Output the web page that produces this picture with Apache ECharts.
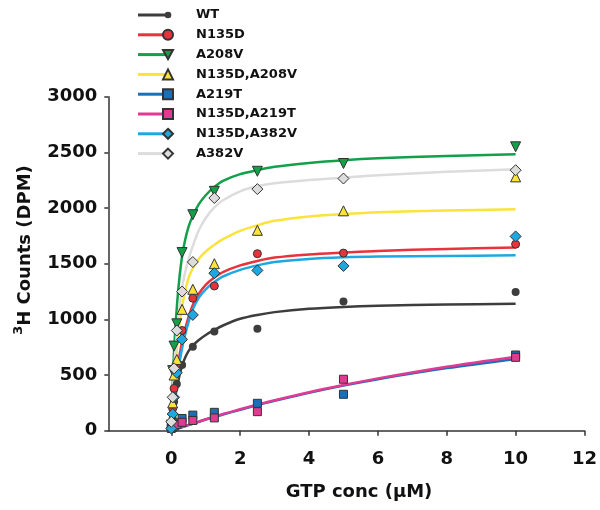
<!DOCTYPE html>
<html>
<head>
<meta charset="utf-8">
<script src="https://cdn.jsdelivr.net/npm/echarts@6/dist/echarts.min.js"></script>
<style>html,body{margin:0;padding:0;background:#fff}#c{width:600px;height:510px}</style>
</head>
<body>
<div id="c"></div>
<script>
// ---- data ----
const seriesNames = ['WT', 'N135D', 'A208V', 'N135D,A208V', 'A219T', 'N135D,A219T', 'N135D,A382V', 'A382V'];
const xTickLabels = [0, 2, 4, 6, 8, 10, 12];

// measured points (GTP conc, DPM)
const pointX = [0, 0.04, 0.08, 0.16, 0.3125, 0.625, 1.25, 2.5, 5, 10];
const wtPts          = [20, 110, 260, 420, 590, 755, 890, 915, 1160, 1245];
const n135dPts       = [30, 200, 380, 600, 900, 1190, 1300, 1590, 1595, 1675];
const a208vPts       = [50, 540, 760, 960, 1600, 1940, 2150, 2330, 2400, 2550];
const n135dA208vPts  = [60, 250, 500, 640, 1090, 1270, 1500, 1800, 1975, 2280];
const a219tPts       = [40, 55, 60, 70, 110, 140, 165, 246, 327, 680];
const n135dA219tPts  = [20, 30, 40, 55, 75, 92, 115, 171, 462, 659];
const n135dA382vPts  = [20, 150, 300, 520, 820, 1040, 1415, 1440, 1480, 1745];
const a382vPts       = [80, 300, 560, 900, 1250, 1515, 2090, 2170, 2265, 2340];

// fitted curves
const curveX = [0, 0.05, 0.1, 0.2, 0.3, 0.4, 0.5, 0.625, 0.8, 1, 1.25, 1.5, 2, 2.5, 3, 4, 5, 6, 8, 10];
const wtCurve         = [0, 150, 275, 445, 570, 655, 715, 765, 815, 860, 905, 945, 1005, 1040, 1065, 1095, 1112, 1122, 1133, 1141];
const n135dCurve      = [0, 200, 370, 600, 780, 910, 1020, 1130, 1230, 1310, 1375, 1425, 1485, 1525, 1555, 1583, 1600, 1615, 1632, 1645];
const a208vCurve      = [0, 500, 830, 1260, 1540, 1710, 1830, 1930, 2035, 2115, 2190, 2245, 2305, 2340, 2370, 2405, 2430, 2447, 2467, 2483];
const n135dA208vCurve = [0, 280, 500, 860, 1090, 1250, 1370, 1460, 1545, 1610, 1670, 1720, 1795, 1845, 1885, 1925, 1946, 1962, 1978, 1988];
const a219tCurve      = [0, 5, 10, 20, 30, 40, 50, 62, 80, 100, 123, 146, 188, 230, 268, 340, 405, 462, 562, 645];
const n135dA219tCurve = [0, 5, 11, 21, 31, 42, 52, 65, 82, 103, 126, 150, 192, 235, 273, 345, 410, 470, 575, 665];
const n135dA382vCurve = [0, 170, 320, 540, 720, 860, 975, 1090, 1195, 1270, 1335, 1385, 1445, 1485, 1515, 1543, 1557, 1564, 1570, 1575];
const a382vCurve      = [0, 370, 640, 1000, 1260, 1420, 1540, 1660, 1800, 1910, 2005, 2070, 2150, 2195, 2222, 2252, 2273, 2295, 2325, 2348];

const allPts = [wtPts, n135dPts, a208vPts, n135dA208vPts, a219tPts, n135dA219tPts, n135dA382vPts, a382vPts];
const allCurves = [wtCurve, n135dCurve, a208vCurve, n135dA208vCurve, a219tCurve, n135dA219tCurve, n135dA382vCurve, a382vCurve];

// ---- styles ----
const colors = ['#3d3d3d', '#e8333c', '#12a04b', '#fbe33a', '#1a70b8', '#e03a92', '#1ea8e2', '#dcdcdc'];
const symbols = ['circle', 'circle', 'triangle', 'triangle', 'rect', 'rect', 'diamond', 'diamond'];
const symbolRot = [0, 0, 180, 0, 0, 0, 0, 0];
const symbolSizes = [8, 8, 10, 10, 8, 8, 11, 11];
const borderW = [0, 1, 1, 1, 1, 1, 1, 1];
const legendIcons = [
  'path://M0,0M12,12M2,6A4,4,0,1,1,10,6A4,4,0,1,1,2,6Z',
  'circle',
  'path://M0,1L12,1L6,12Z',
  'triangle',
  'rect',
  'rect',
  'diamond',
  'diamond'
];

const FONT = 'DejaVu Sans';
const series = [];
seriesNames.forEach((name, i) => {
  series.push({
    name, type: 'scatter', z: 4,
    symbol: symbols[i], symbolRotate: symbolRot[i], symbolSize: symbolSizes[i],
    itemStyle: { color: colors[i], borderColor: '#333', borderWidth: borderW[i], opacity: 1 },
    data: pointX.map((x, k) => [x, allPts[i][k]])
  });
});
seriesNames.forEach((name, i) => {
  series.push({
    name, type: 'line', z: 3, showSymbol: false, symbol: 'none',
    smooth: 0.3,
    lineStyle: { color: colors[i], width: 2.5 },
    itemStyle: { color: colors[i] },
    data: curveX.map((x, k) => [x, allCurves[i][k]])
  });
});

const chart = echarts.init(document.getElementById('c'), null, { renderer: 'canvas' });
chart.setOption({
  animation: false,
  backgroundColor: '#fff',
  grid: { left: 108.3, right: 11.7, top: 96.7, bottom: 79.3, containLabel: false },
  xAxis: {
    type: 'value', min: -1.83, max: 12,
    axisLine: { show: true, onZero: false, lineStyle: { color: '#333', width: 1.5 } },
    axisTick: { show: true, inside: false, length: 5, customValues: xTickLabels, lineStyle: { color: '#333', width: 1.5 } },
    axisLabel: { customValues: xTickLabels, fontFamily: FONT, fontWeight: 'bold', fontSize: 18, color: '#111', margin: 20 },
    splitLine: { show: false }
  },
  yAxis: {
    type: 'value', min: 0, max: 3000, interval: 500,
    axisLine: { show: true, onZero: false, lineStyle: { color: '#333', width: 1.5 } },
    axisTick: { show: true, inside: false, length: 4, lineStyle: { color: '#333', width: 1.5 } },
    axisLabel: { fontFamily: FONT, fontWeight: 'bold', fontSize: 18, color: '#111', margin: 11, formatter: function (v) { return String(v); } },
    splitLine: { show: false }
  },
  legend: [
    {
      orient: 'vertical', left: 138, top: 13.5, padding: 0,
      itemWidth: 28, itemHeight: 3, itemGap: 16.8, icon: 'rect',
      formatter: function () { return ''; },
      itemStyle: { borderWidth: 0 },
      data: seriesNames
    },
    {
      orient: 'vertical', left: 162, top: 5.1, padding: 0,
      itemWidth: 10, itemHeight: 10, itemGap: 0,
      textStyle: { fontFamily: FONT, fontWeight: 'bold', fontSize: 13, color: '#111', lineHeight: 19.8, padding: [0, 0, 0, 18] },
      data: seriesNames.map((n, i) => ({ name: n, icon: legendIcons[i] }))
    }
  ],
  graphic: [
    {
      type: 'text', x: 359, y: 492,
      style: { text: 'GTP conc (\u03BCM)', font: 'bold 18px "DejaVu Sans"', fill: '#111', align: 'center', verticalAlign: 'middle' }
    },
    {
      type: 'text', x: 23, y: 250, rotation: Math.PI / 2,
      style: {
        text: '{s|3}{m|H Counts (DPM)}',
        align: 'center', verticalAlign: 'middle', fill: '#111',
        rich: {
          s: { fontFamily: FONT, fontWeight: 'bold', fontSize: 13, lineHeight: 22, verticalAlign: 'top', fill: '#111' },
          m: { fontFamily: FONT, fontWeight: 'bold', fontSize: 18, lineHeight: 22, verticalAlign: 'bottom', fill: '#111' }
        }
      }
    }
  ],
  series
});
</script>
</body>
</html>
